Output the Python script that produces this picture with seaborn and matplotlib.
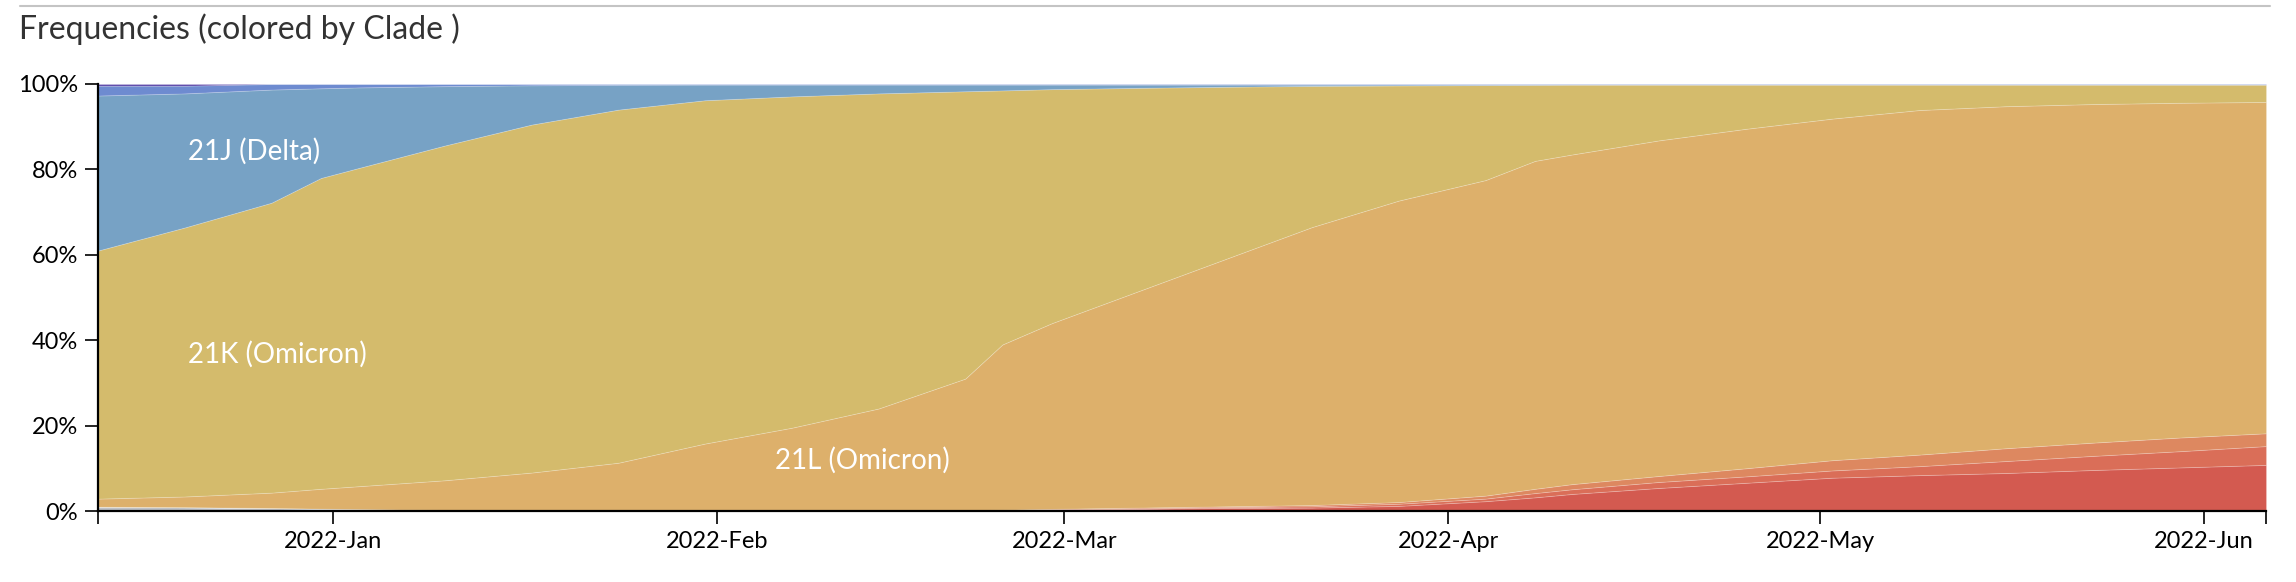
import numpy as np
import pandas as pd
import matplotlib
matplotlib.use("Agg")
import matplotlib.pyplot as plt
import matplotlib.dates as mdates
from matplotlib.ticker import FixedLocator, FuncFormatter
import seaborn as sns

# pivot dates of the frequency estimates
dates = [
    "2021-12-13", "2021-12-20", "2021-12-27", "2021-12-31", "2022-01-03",
    "2022-01-10", "2022-01-17", "2022-01-24", "2022-01-31", "2022-02-07",
    "2022-02-14", "2022-02-21", "2022-02-24", "2022-02-28", "2022-03-07",
    "2022-03-14", "2022-03-21", "2022-03-28", "2022-04-04", "2022-04-08",
    "2022-04-11", "2022-04-18", "2022-04-25", "2022-05-02", "2022-05-09",
    "2022-05-16", "2022-05-23", "2022-05-30", "2022-06-06",
]

# clade frequencies in percent, bottom of the stack first
other = [1.0, 0.9, 0.7, 0.55, 0.45, 0.25, 0.1, 0.05] + [0] * 21
clade_22b = [0] * 11 + [0.1, 0.2, 0.3, 0.5, 0.7, 0.8, 1.2, 2.3, 3.2, 4.0, 5.4,
                        6.6, 7.8, 8.4, 8.9, 9.6, 10.2, 10.8]
clade_22a = [0] * 11 + [0.05, 0.05, 0.1, 0.1, 0.2, 0.3, 0.5, 0.6, 1.0, 1.1, 1.4,
                        1.5, 1.7, 2.1, 2.8, 3.3, 3.8, 4.4]
clade_22c = [0] * 11 + [0.05, 0.05, 0.1, 0.2, 0.2, 0.3, 0.4, 0.7, 1.0, 1.2, 1.4,
                        1.9, 2.4, 2.7, 3.0, 3.1, 3.2, 3.0]
clade_21l = [1.9, 2.5, 3.6, 4.65, 5.35, 6.95, 8.9, 11.25, 15.8, 19.5, 24.0, 30.8,
             38.7, 43.5, 50.7, 57.9, 65.1, 70.6, 73.9, 76.8, 77.2, 78.6, 79.5,
             80.0, 80.7, 80.1, 79.3, 78.4, 77.6]
clade_21k = [58.1, 63.0, 67.9, 72.8, 74.5, 78.4, 81.5, 82.7, 80.4, 77.6, 73.8,
             67.3, 59.5, 54.8, 47.6, 40.35, 33.05, 26.95, 22.25, 17.8, 16.35,
             13.05, 10.35, 7.95, 5.95, 5.05, 4.55, 4.25, 4.05]
clade_21j = [36.3, 31.4, 26.5, 21.0, 18.9, 13.9, 9.2, 5.8, 3.65, 2.75, 2.05,
             1.55, 1.35, 1.05, 0.75, 0.5, 0.3, 0.2, 0.1, 0.05] + [0] * 9
clade_21i = [2.3, 1.8, 1.3, 1.0, 0.8, 0.5, 0.3, 0.2] + [0.15] * 21
clade_21a = [0.4, 0.4] + [0] * 27

layers = [other, clade_22b, clade_22a, clade_22c, clade_21l, clade_21k,
          clade_21j, clade_21i, clade_21a]
colors = ["#BEC1C6", "#D35A50", "#DA6E58", "#DD8860", "#DDB06B", "#D4BB6C",
          "#77A2C5", "#6E8BD0", "#5C46A8"]

labels = ["21J (Delta)", "21K (Omicron)", "21L (Omicron)"]
label_dates = ["2021-12-20 06:00", "2021-12-20 06:00", "2022-02-05 16:00"]
label_y = [82.2, 34.7, 9.8]

sns.set_theme(style="white")
plt.rcParams["font.family"] = ["Lato", "DejaVu Sans"]

x = mdates.date2num(pd.to_datetime(dates))
fig = plt.figure(figsize=(22.96, 5.82), dpi=100)
ax = fig.add_axes([98 / 2296, 1 - 511 / 582, (2266 - 98) / 2296, 427 / 582])

polys = ax.stackplot(x, *[np.array(l, dtype=float) for l in layers],
                     colors=colors, linewidth=0.6)
for p in polys:
    p.set_edgecolor((1, 1, 1, 0.22))

for text, d, yv in zip(labels, label_dates, label_y):
    ax.text(mdates.date2num(pd.Timestamp(d)), yv, text, color="white",
            fontsize=20, ha="left", va="baseline")

ax.set_xlim(x[0], x[-1])
ax.set_ylim(0, 100)
ax.xaxis.set_major_locator(mdates.MonthLocator())
ax.xaxis.set_major_formatter(mdates.DateFormatter("%Y-%b"))
ax.xaxis.set_minor_locator(FixedLocator([x[0], x[-1]]))
ax.yaxis.set_major_locator(FixedLocator([0, 20, 40, 60, 80, 100]))
ax.yaxis.set_major_formatter(FuncFormatter(lambda v, _: f"{int(v)}%"))

for side in ["top", "right"]:
    ax.spines[side].set_visible(False)
for side in ["left", "bottom"]:
    ax.spines[side].set_color("black")
    ax.spines[side].set_linewidth(1.6)
ax.tick_params(axis="both", which="both", direction="out", length=9.5,
               width=1.2, color="black", labelcolor="black", labelsize=17,
               pad=5, bottom=True, left=True)
ax.tick_params(axis="x", which="minor", labelbottom=False)
ax.grid(False)

fig.text(19 / 2296, 1 - 39 / 582, "Frequencies (colored by Clade )",
         fontsize=23, color="#333333", ha="left", va="baseline")
fig.add_artist(plt.Line2D([20 / 2296, 2270 / 2296], [1 - 6 / 582, 1 - 6 / 582],
                          color="#C4C4C4", linewidth=1.5,
                          transform=fig.transFigure))

fig.savefig("out.png", dpi=100)
